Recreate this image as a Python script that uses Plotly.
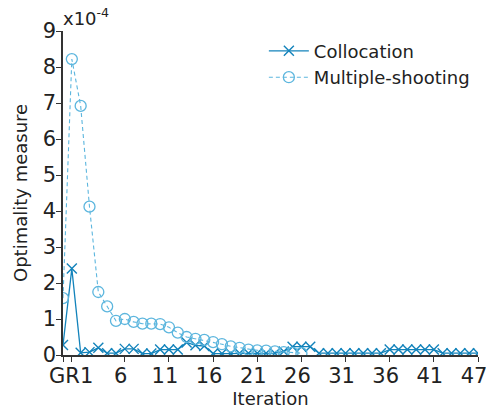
import plotly.graph_objects as go

# x positions: 0 is the initial guess (GR), then one slot per iteration
positions = list(range(48))
tick_positions = [0, 1, 7, 12, 17, 22, 27, 32, 37, 42, 47]
tick_labels = ["GR", "1", "6", "11", "16", "21", "26", "31", "36", "41", "47"]

# Optimality measure, in units of 1e-4
collocation = [0.28, 2.4, 0.06, 0.08, 0.2, 0.05, 0.05, 0.17, 0.17, 0.04,
               0.04, 0.15, 0.15, 0.15, 0.35, 0.27, 0.25, 0.04, 0.04, 0.04,
               0.05, 0.05, 0.05, 0.05, 0.05, 0.1, 0.23, 0.23, 0.23, 0.05,
               0.05, 0.05, 0.05, 0.05, 0.05, 0.05, 0.05, 0.15, 0.15, 0.15,
               0.15, 0.15, 0.15, 0.05, 0.05, 0.05, 0.05, 0.05]
ms_positions = list(range(28))
multiple_shooting = [1.58, 8.22, 6.92, 4.12, 1.75, 1.35, 0.95, 1.0, 0.92, 0.87,
                     0.87, 0.86, 0.77, 0.62, 0.5, 0.45, 0.42, 0.36, 0.3, 0.24,
                     0.2, 0.15, 0.13, 0.12, 0.1, 0.08, 0.06, 0.05]

# the first two ticks are one slot apart, so their labels are placed by hand
# side by side (reading "GR1"); the axis draws the remaining ones
axis_labels = [""] * 2 + tick_labels[2:]
first_label_shift = [1, 15]

col_dark = "#1383bb"
col_light = "#5cb6de"
font_family = "'DejaVu Sans', sans-serif"
text_color = "#222"

fig = go.Figure()
fig.add_trace(go.Scatter(
    x=positions, y=collocation, name="Collocation",
    mode="lines+markers",
    line=dict(color=col_dark, width=1.3),
    marker=dict(symbol="x-thin-open", size=10, line=dict(color=col_dark, width=1.4)),
))
fig.add_trace(go.Scatter(
    x=ms_positions, y=multiple_shooting, name="Multiple-shooting",
    mode="lines+markers",
    line=dict(color=col_light, width=1.1, dash="4px,3px"),
    marker=dict(symbol="circle-open", size=11, line=dict(color=col_light, width=1.3)),
))

annotations = [
    dict(text="x10<sup>-4</sup>", xref="paper", yref="paper", x=0.0, y=1.0,
         xanchor="left", yanchor="bottom", showarrow=False, font=dict(size=18),
         xshift=-2),
    dict(text="Optimality measure", xref="paper", yref="paper", x=0.0, y=0.5,
         xanchor="center", yanchor="middle", textangle=-90, showarrow=False,
         font=dict(size=18), xshift=-43),
]
for pos, label, shift in zip(tick_positions[:2], tick_labels[:2], first_label_shift):
    annotations.append(dict(
        text=label, xref="x", yref="paper", x=pos, y=0.0,
        xanchor="center", yanchor="top", showarrow=False,
        borderpad=0, borderwidth=0,
        font=dict(size=21), xshift=shift, yshift=-9,
    ))

fig.update_layout(
    width=486, height=410,
    margin=dict(l=63, r=8, t=31, b=55),
    paper_bgcolor="white", plot_bgcolor="white",
    font=dict(family=font_family, size=21, color=text_color),
    showlegend=True,
    legend=dict(x=0.484, y=0.995, xanchor="left", yanchor="top",
                bgcolor="rgba(0,0,0,0)", font=dict(size=18),
                itemwidth=40, tracegroupgap=0),
    xaxis=dict(
        range=[0, 47], tickmode="array", tickvals=tick_positions, ticktext=axis_labels,
        tickangle=0, ticklabeloverflow="allow", automargin=False,
        ticklabelstandoff=-4, ticklabelshift=-4,
        showgrid=False, zeroline=False, showline=True, linecolor="#333", linewidth=1.5,
        ticks="outside", ticklen=5, tickcolor="#333",
        title=dict(text="Iteration", font=dict(size=18), standoff=0),
    ),
    yaxis=dict(
        range=[0, 9], tickmode="array", tickvals=list(range(10)), automargin=False,
        ticklabelstandoff=-4,
        showgrid=False, zeroline=False, showline=True, linecolor="#333", linewidth=1.5,
        ticks="outside", ticklen=5, tickcolor="#333",
    ),
    annotations=annotations,
)

fig.write_html("out.html")
